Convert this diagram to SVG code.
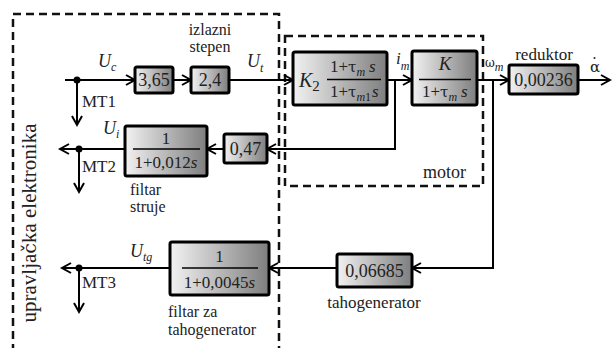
<svg xmlns="http://www.w3.org/2000/svg" width="612" height="348" viewBox="0 0 612 348">
<defs>
<linearGradient id="g" x1="0" y1="0" x2="1" y2="0">
<stop offset="0" stop-color="#f2f2f2"/>
<stop offset="1" stop-color="#7e7e7e"/>
</linearGradient>
<marker id="a" markerUnits="userSpaceOnUse" markerWidth="12" markerHeight="12" refX="9" refY="5" orient="auto" overflow="visible">
<path d="M0,0 L9,5 L0,10" fill="none" stroke="#000" stroke-width="2"/>
</marker>
</defs>
<rect width="612" height="348" fill="#fff"/>
<g id="frames">
<path d="M13,352 L13,14 L279,14 L279,352" fill="none" stroke="#111" stroke-width="2.5" stroke-dasharray="8 5"/>
<rect x="285" y="36" width="198" height="150" fill="none" stroke="#111" stroke-width="2.5" stroke-dasharray="8 5"/>
<text font-family="Liberation Serif" font-size="21" fill="#222" x="0" y="0" transform="translate(36,223) rotate(-90)" text-anchor="middle">upravlja<tspan font-family="DejaVu Serif" font-size="19">č</tspan>ka elektronika</text>
<text font-family="Liberation Serif" font-size="18" fill="#222" x="423" y="178">motor</text>
</g>

<g id="connectors" fill="none" stroke="#000" stroke-width="2">
<path d="M65,80 L135,80" marker-end="url(#a)"/>
<path d="M173,80 L191,80" marker-end="url(#a)"/>
<path d="M229,80 L293,80" marker-end="url(#a)"/>
<path d="M387,80 L412,80" marker-end="url(#a)"/>
<path d="M477,80 L509,80" marker-end="url(#a)"/>
<path d="M578,80 L610,80" marker-end="url(#a)"/>
<path d="M77,80 L77,125" marker-end="url(#a)"/>
<path d="M395,80 L395,149 L267,149" marker-end="url(#a)"/>
<path d="M224,149 L207,149" marker-end="url(#a)"/>
<path d="M125,149 L60,149" marker-end="url(#a)"/>
<path d="M79,149 L79,192" marker-end="url(#a)"/>
<path d="M493,80 L493,268 L412,268" marker-end="url(#a)"/>
<path d="M337,268 L269,268" marker-end="url(#a)"/>
<path d="M170,268 L62,268" marker-end="url(#a)"/>
<path d="M79,268 L79,312" marker-end="url(#a)"/>
<circle cx="77" cy="80" r="3.5" fill="#000" stroke="none"/>
<circle cx="79" cy="149" r="3.5" fill="#000" stroke="none"/>
<circle cx="79" cy="268" r="3.5" fill="#000" stroke="none"/>
</g>

<g id="labels" fill="#222">
<text font-family="Liberation Serif" font-size="18" font-style="italic" x="98" y="67">U<tspan font-size="12" dy="4">c</tspan></text>
<text font-family="Liberation Serif" font-size="18" font-style="italic" x="247" y="67">U<tspan font-size="12" dy="5">t</tspan></text>
<text font-family="Liberation Serif" font-size="16" x="210" y="35" text-anchor="middle">izlazni</text>
<text font-family="Liberation Serif" font-size="16" x="210" y="52" text-anchor="middle">stepen</text>
<text font-family="Liberation Serif" font-size="17" x="82" y="107">MT1</text>
<text font-family="Liberation Serif" font-size="17" font-style="italic" x="396" y="64">i<tspan font-size="12" dy="6">m</tspan></text>
<text font-family="DejaVu Serif" font-size="12" x="485" y="67">ω<tspan font-family="Liberation Serif" font-size="12" font-style="italic" dy="4">m</tspan></text>
<text font-family="Liberation Serif" font-size="17" x="544" y="60" text-anchor="middle">reduktor</text>
<text font-family="DejaVu Serif" font-size="15" x="590" y="72">α</text>
<circle cx="594.5" cy="58" r="1" fill="#222"/>
<text font-family="Liberation Serif" font-size="18" font-style="italic" x="103" y="134">U<tspan font-size="12" dy="4">i</tspan></text>
<text font-family="Liberation Serif" font-size="17" x="82" y="172">MT2</text>
<text font-family="Liberation Serif" font-size="16" x="130" y="195">filtar</text>
<text font-family="Liberation Serif" font-size="16" x="130" y="212">struje</text>
<text font-family="Liberation Serif" font-size="18" font-style="italic" x="130" y="257">U<tspan font-size="12" dy="4">tg</tspan></text>
<text font-family="Liberation Serif" font-size="17" x="82" y="288">MT3</text>
<text font-family="Liberation Serif" font-size="16" x="168" y="317">filtar za</text>
<text font-family="Liberation Serif" font-size="16" x="168" y="335">tahogenerator</text>
<text font-family="Liberation Serif" font-size="17" x="374" y="308" text-anchor="middle">tahogenerator</text>
</g>

<g id="n365" fill="#222">
<rect x="135" y="67" width="38" height="26" rx="2" fill="url(#g)" stroke="#000" stroke-width="3"/>
<text font-family="Liberation Serif" font-size="18" x="154" y="86" text-anchor="middle">3,65</text>
</g>
<g id="n24" fill="#222">
<rect x="191" y="67" width="38" height="26" rx="2" fill="url(#g)" stroke="#000" stroke-width="3"/>
<text font-family="Liberation Serif" font-size="18" x="210" y="86" text-anchor="middle">2,4</text>
</g>
<g id="nK2" fill="#222">
<rect x="293" y="52" width="94" height="53" rx="2" fill="url(#g)" stroke="#000" stroke-width="3"/>
<text font-family="Liberation Serif" font-size="20" font-style="italic" x="299" y="87">K<tspan dy="4" font-style="normal" font-size="15">2</tspan></text>
<line x1="327" y1="79.5" x2="381" y2="79.5" stroke="#000" stroke-width="1.5"/>
<text font-family="Liberation Serif" font-size="17" x="330" y="72">1+<tspan font-family="DejaVu Serif" font-size="15">τ</tspan><tspan font-size="12" font-style="italic" dy="4">m</tspan><tspan font-style="italic" dx="4" dy="-4">s</tspan></text>
<text font-family="Liberation Serif" font-size="17" x="330" y="97">1+<tspan font-family="DejaVu Serif" font-size="15">τ</tspan><tspan font-size="12" font-style="italic" dy="4">m</tspan><tspan font-size="12">1</tspan><tspan font-style="italic" dx="1" dy="-4">s</tspan></text>
</g>
<g id="nK" fill="#222">
<rect x="412" y="51" width="65" height="54" rx="2" fill="url(#g)" stroke="#000" stroke-width="3"/>
<text font-family="Liberation Serif" font-size="19" font-style="italic" x="445" y="70" text-anchor="middle">K</text>
<line x1="419" y1="79.5" x2="471" y2="79.5" stroke="#000" stroke-width="1.5"/>
<text font-family="Liberation Serif" font-size="17" x="422" y="97">1+<tspan font-family="DejaVu Serif" font-size="15">τ</tspan><tspan font-size="12" font-style="italic" dy="4">m</tspan><tspan font-style="italic" dx="4" dy="-4">s</tspan></text>
</g>
<g id="nred" fill="#222">
<rect x="509" y="65" width="69" height="29" rx="2" fill="url(#g)" stroke="#000" stroke-width="3"/>
<text font-family="Liberation Serif" font-size="18" x="543.5" y="86" text-anchor="middle">0,00236</text>
</g>
<g id="n047" fill="#222">
<rect x="224" y="134" width="43" height="29" rx="2" fill="url(#g)" stroke="#000" stroke-width="3"/>
<text font-family="Liberation Serif" font-size="18" x="245.5" y="155" text-anchor="middle">0,47</text>
</g>
<g id="nfilt1" fill="#222">
<rect x="125" y="126" width="82" height="50" rx="2" fill="url(#g)" stroke="#000" stroke-width="3"/>
<text font-family="Liberation Serif" font-size="17" x="166" y="144" text-anchor="middle">1</text>
<line x1="133" y1="149" x2="200" y2="149" stroke="#000" stroke-width="1.5"/>
<text font-family="Liberation Serif" font-size="17" x="166" y="168" text-anchor="middle">1+0,012<tspan font-style="italic">s</tspan></text>
</g>
<g id="ntaho" fill="#222">
<rect x="337" y="254" width="75" height="33" rx="2" fill="url(#g)" stroke="#000" stroke-width="3"/>
<text font-family="Liberation Serif" font-size="18" x="374.5" y="277" text-anchor="middle">0,06685</text>
</g>
<g id="nfilt2" fill="#222">
<rect x="170" y="242" width="99" height="53" rx="2" fill="url(#g)" stroke="#000" stroke-width="3"/>
<text font-family="Liberation Serif" font-size="17" x="219.5" y="262" text-anchor="middle">1</text>
<line x1="182" y1="268" x2="258" y2="268" stroke="#000" stroke-width="1.5"/>
<text font-family="Liberation Serif" font-size="17" x="219.5" y="288" text-anchor="middle">1+0,0045<tspan font-style="italic">s</tspan></text>
</g>
</svg>
